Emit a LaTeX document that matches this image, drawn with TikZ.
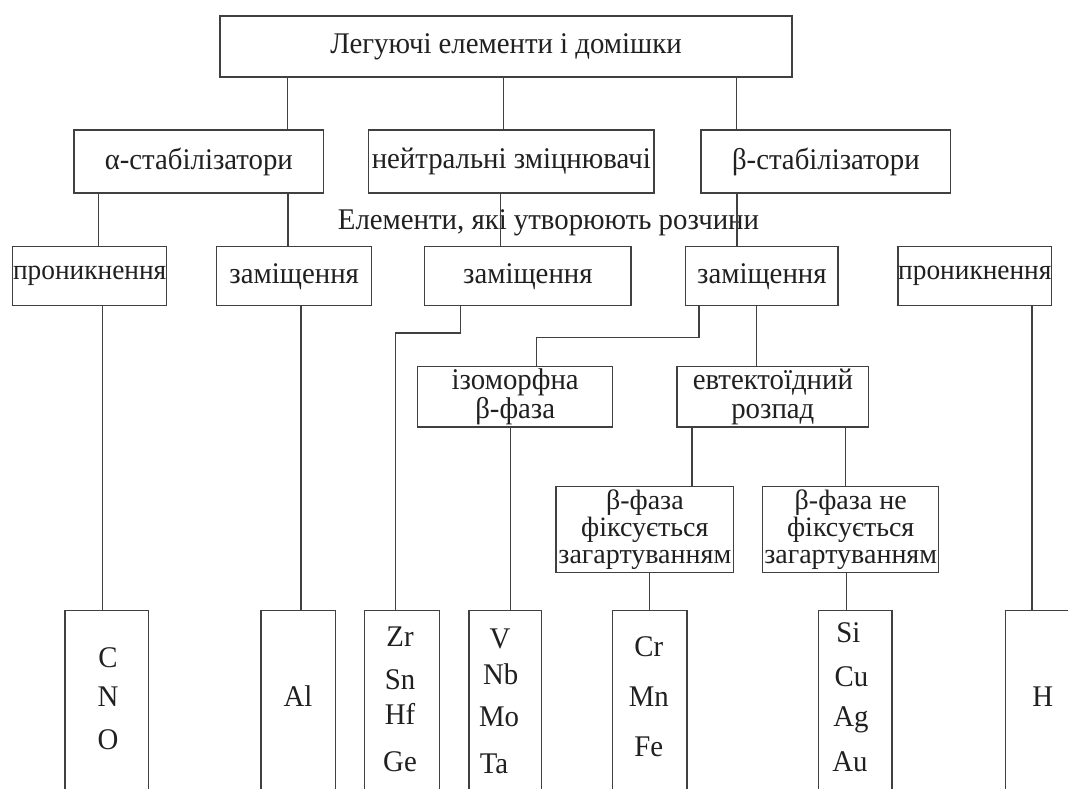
\documentclass[tikz,border=0pt]{standalone}
\usepackage{fontspec}
\setmainfont[FakeStretch=0.96]{Liberation Serif}
\newfontfamily\bff{Liberation Serif}
\definecolor{lc}{HTML}{404040}
\definecolor{tc}{HTML}{202020}
\tikzset{
  bx/.style={draw=lc, line width=1.2pt, inner sep=0pt, outer sep=0pt, text=tc, align=center,
    font=\fontsize{30}{29}\selectfont},
  bxs/.style={bx, font=\bff\fontsize{28}{27}\selectfont},
  bxp/.style={bx, font=\fontsize{28.5}{29}\selectfont},
  ln/.style={draw=lc, line width=1.2pt},
  el/.style={text=tc, inner sep=0pt, anchor=base, font=\fontsize{30}{29}\selectfont},
}
\begin{document}
\begin{tikzpicture}[x=1pt,y=-1pt]
\useasboundingbox (0,0) rectangle (1068,788);
\clip (0,0) rectangle (1068,788);
\fill[white] (0,0) rectangle (1068,788);
% level 0
\node[bx, minimum width=572, minimum height=61] (top) at (506,46.5) {Легуючі елементи і домішки};
% level 1
\node[bx, minimum width=249.6, minimum height=63] (alpha) at (198.8,161.5) {α-стабілізатори};
\node[bx, minimum width=285.5, minimum height=63] (neut) at (511.25,161.5) {нейтральні зміцнювачі};
\node[bx, minimum width=249.6, minimum height=63] (beta) at (825.8,161.5) {β-стабілізатори};
% label
\node[el] (sol) at (548.5,229) {Елементи, які утворюють розчини};
% level 2
\node[bxp, minimum width=154, minimum height=59] (pr1) at (89.7,276.2) {проникнення};
\node[bx, minimum width=155, minimum height=59] (z1) at (294.2,276.2) {заміщення};
\node[bx, minimum width=206.3, minimum height=59] (z2) at (527.85,276.2) {заміщення};
\node[bx, minimum width=152.3, minimum height=59] (z3) at (761.85,276.2) {заміщення};
\node[bxp, minimum width=153.7, minimum height=59] (pr2) at (974.85,276.2) {проникнення};
% level 3
\node[bx, minimum width=195, minimum height=60.3] (iso) at (515.2,396.85) {ізоморфна\\β-фаза};
\node[bx, minimum width=191.7, minimum height=60.3] (evt) at (772.85,396.85) {евтектоїдний\\розпад};
% level 4
\node[bxs, minimum width=177.7, minimum height=85.6] (bf1) at (644.85,529.5) {β-фаза\\фіксується\\загартуванням};
\node[bxs, minimum width=176, minimum height=85.6] (bf2) at (850.7,529.5) {β-фаза не\\фіксується\\загартуванням};
% bottom boxes
\node[bx, minimum width=83.8, minimum height=209.3] (cno) at (106.9,715.35) {};
\node[bx, minimum width=74.8, minimum height=209.3] (al) at (298.4,715.35) {};
\node[bx, minimum width=74.6, minimum height=209.3] (zr) at (402.1,715.35) {};
\node[bx, minimum width=72.5, minimum height=209.3] (v) at (505.25,715.35) {};
\node[bx, minimum width=74.7, minimum height=209.3] (cr) at (649.65,715.35) {};
\node[bx, minimum width=73.3, minimum height=209.3] (si) at (855.35,715.35) {};
\node[bx, minimum width=79.7, minimum height=209.3] (h) at (1045.15,715.35) {};
% element labels
\node[el] (eC) at (108,667) {C};
\node[el] (eN) at (108,706) {N};
\node[el] (eO) at (108,749.5) {O};
\node[el] (eAl) at (298,706.5) {Al};
\node[el] (eZr) at (400,646.5) {Zr};
\node[el] (eSn) at (400,689.5) {Sn};
\node[el] (eHf) at (400,724.5) {Hf};
\node[el] (eGe) at (400,771) {Ge};
\node[el] (eV) at (500,648) {V};
\node[el] (eNb) at (500.7,684.5) {Nb};
\node[el] (eMo) at (499,726) {Mo};
\node[el] (eTa) at (494,773) {Ta};
\node[el] (eCr) at (648.8,656) {Cr};
\node[el] (eMn) at (648.8,706) {Mn};
\node[el] (eFe) at (648.8,756) {Fe};
\node[el] (eSi) at (848.4,642.5) {Si};
\node[el] (eCu) at (851.4,686) {Cu};
\node[el] (eAg) at (851,726.5) {Ag};
\node[el] (eAu) at (850,771) {Au};
\node[el] (eH) at (1042.7,706.5) {H};
% connectors
\draw[ln] (top.south -| 287.8,0) -- (alpha.north -| 287.8,0);
\draw[ln] (top.south -| 503.4,0) -- (neut.north -| 503.4,0);
\draw[ln] (top.south -| 736.7,0) -- (beta.north -| 736.7,0);
\draw[ln] (alpha.south -| 98.5,0) -- (pr1.north -| 98.5,0);
\draw[ln] (alpha.south -| 288,0) -- (z1.north -| 288,0);
\draw[ln] (neut.south -| 500.7,0) -- (z2.north -| 500.7,0);
\draw[ln] (beta.south -| 737,0) -- (z3.north -| 737,0);
\draw[ln] (pr1.south -| 102.3,0) -- (cno.north -| 102.3,0);
\draw[ln] (z1.south -| 301,0) -- (al.north -| 301,0);
\coordinate (k1) at (395.4,333);
\draw[ln] (z2.south -| 460.7,0) |- (k1) -- (k1 |- zr.north);
\coordinate (k2) at (536.7,337.7);
\draw[ln] (z3.south -| 699,0) |- (k2) -- (k2 |- iso.north);
\draw[ln] (z3.south -| 756.7,0) -- (evt.north -| 756.7,0);
\draw[ln] (iso.south -| 510.8,0) -- (v.north -| 510.8,0);
\draw[ln] (evt.south -| 692,0) -- (bf1.north -| 692,0);
\draw[ln] (evt.south -| 845.3,0) -- (bf2.north -| 845.3,0);
\draw[ln] (bf1.south -| 649.5,0) -- (cr.north -| 649.5,0);
\draw[ln] (bf2.south -| 846.7,0) -- (si.north -| 846.7,0);
\draw[ln] (pr2.south -| 1032,0) -- (h.north -| 1032,0);
\end{tikzpicture}
\end{document}
